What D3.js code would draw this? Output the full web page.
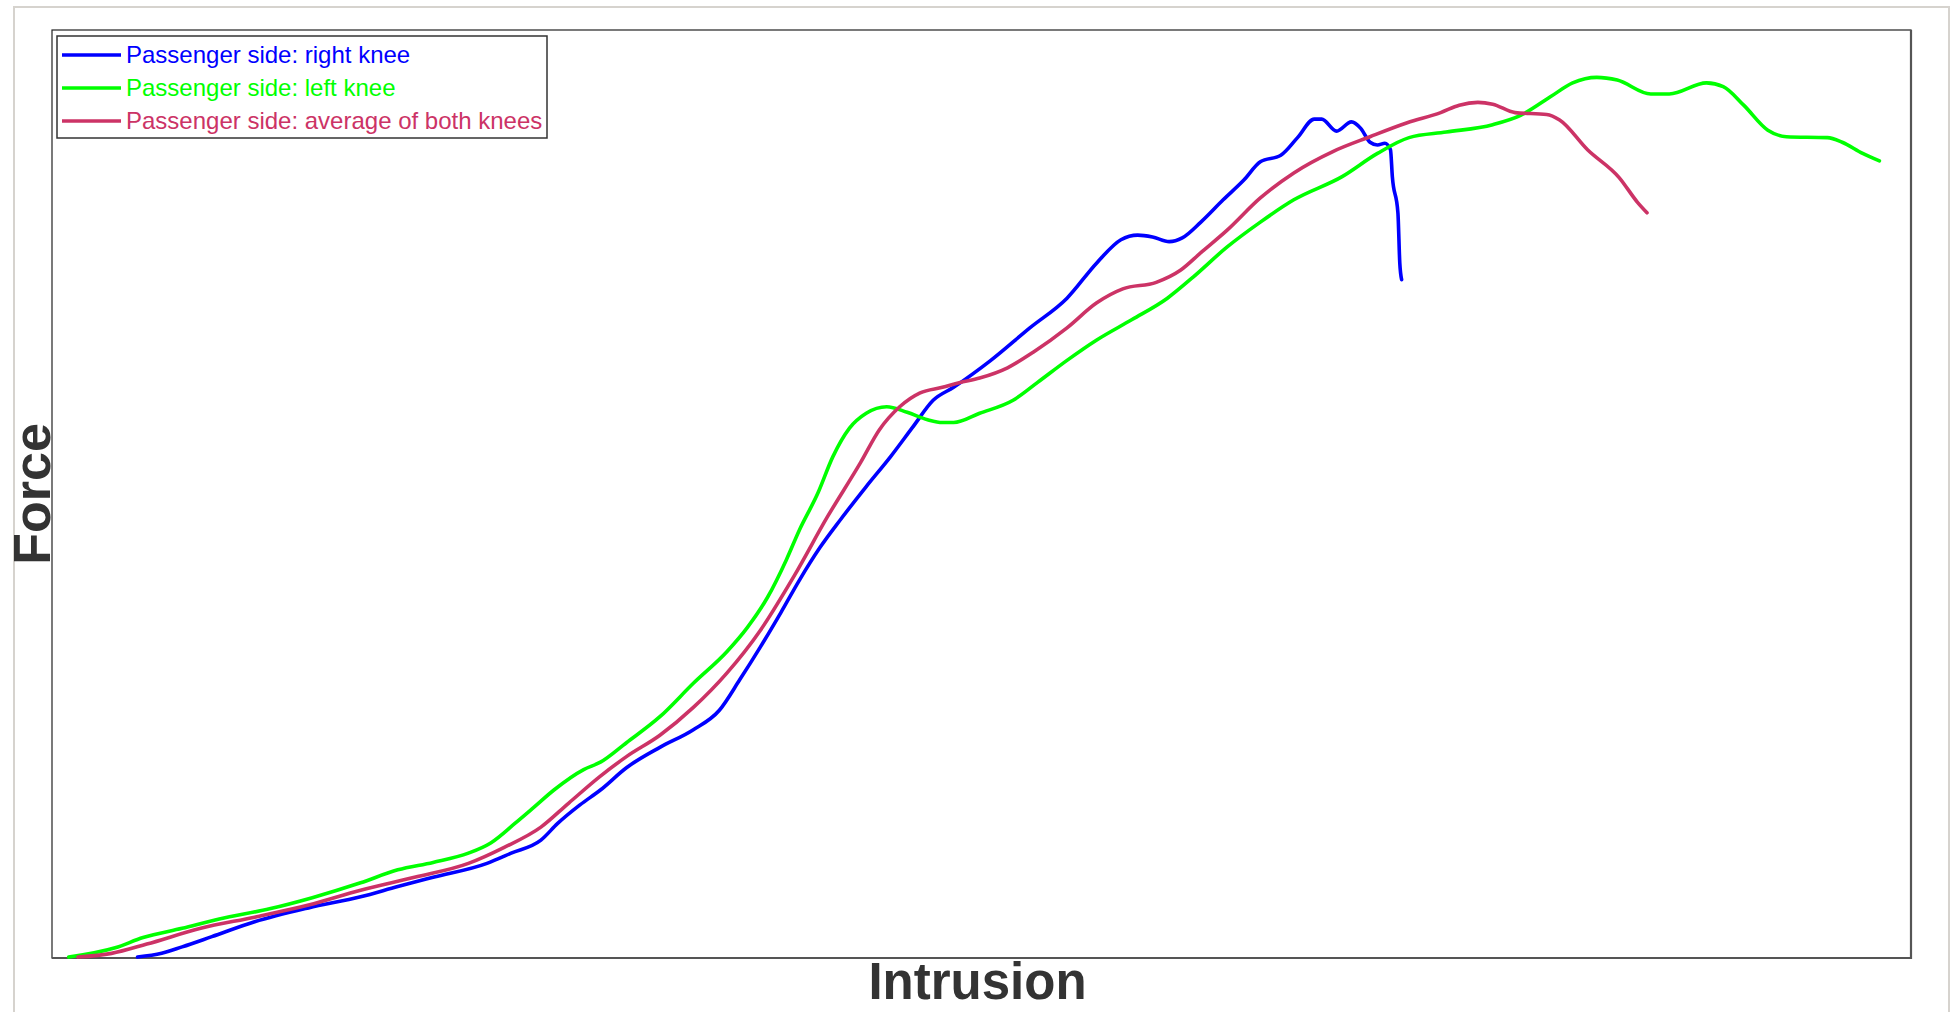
<!DOCTYPE html>
<html>
<head>
<meta charset="utf-8">
<title>Passenger knee force vs intrusion</title>
<script src="https://cdn.jsdelivr.net/npm/d3@7/dist/d3.min.js"></script>
<style>
    body { margin: 0; background: #fff; }
    svg { display: block; font-family: "Liberation Sans", Arial, sans-serif; }
</style>
</head>
<body>
<script>
// [intrusion, force] pairs, both as % of the plotted range (the chart has no ticks)
var rightKnee = [
    [4.6, 0.1], [5.9, 0.5], [7.0, 1.2], [8.6, 2.3], [10.9, 3.9], [13.8, 5.4], [16.6, 6.6],
    [18.6, 7.7], [20.5, 8.7], [23.4, 10.2], [24.7, 11.3], [26.3, 12.7], [27.2, 14.5],
    [28.4, 16.5], [29.5, 18.1], [30.9, 20.5], [32.7, 22.7], [34.5, 24.6], [35.9, 26.7],
    [37.0, 30.0], [38.1, 33.5], [39.2, 37.2], [40.2, 40.7], [41.3, 44.2], [42.4, 47.2],
    [43.8, 50.8], [45.1, 54.0], [46.3, 57.2], [47.4, 60.1], [48.5, 61.5], [50.5, 64.4],
    [52.6, 67.9], [54.6, 71.1], [56.2, 74.9], [57.5, 77.4], [58.4, 77.9], [59.2, 77.7],
    [60.1, 77.2], [60.8, 77.6], [61.8, 79.3], [63.0, 81.7], [64.1, 83.8], [65.0, 85.8],
    [66.1, 86.5], [67.0, 88.4], [67.9, 90.4], [68.3, 90.4], [69.1, 89.1], [69.9, 90.1],
    [70.4, 89.4], [70.9, 87.9], [71.3, 87.6], [71.7, 87.8], [72.0, 87.1], [72.1, 84.2],
    [72.4, 80.3], [72.5, 74.9], [72.6, 73.1]
];
var leftKnee = [
    [0.9, 0.1], [3.4, 1.1], [4.9, 2.2], [7.0, 3.2], [9.0, 4.2], [11.7, 5.3], [14.0, 6.5],
    [16.6, 8.1], [18.6, 9.5], [20.5, 10.3], [22.4, 11.3], [23.6, 12.4], [24.9, 14.5],
    [25.9, 16.2], [27.0, 18.1], [28.6, 20.3], [29.5, 21.1], [30.9, 23.2], [32.7, 26.0],
    [34.5, 29.6], [36.3, 33.0], [37.4, 35.6], [38.5, 38.9], [39.5, 42.9], [40.2, 46.1],
    [41.2, 50.1], [42.0, 54.0], [42.9, 57.1], [43.8, 58.7], [44.9, 59.4], [46.0, 58.8],
    [47.1, 58.0], [47.9, 57.7], [48.5, 57.7], [49.9, 58.7], [51.7, 60.1], [53.0, 62.0],
    [54.6, 64.4], [56.2, 66.6], [58.1, 68.8], [60.0, 71.1], [61.4, 73.4], [63.2, 76.6],
    [65.0, 79.3], [66.8, 81.7], [69.4, 84.2], [71.3, 86.7], [73.0, 88.4], [75.0, 89.0],
    [77.5, 89.8], [79.0, 90.8], [80.6, 92.8], [81.8, 94.3], [83.1, 94.9], [84.2, 94.6],
    [86.0, 93.1], [87.0, 93.1], [89.0, 94.3], [89.9, 93.9], [91.0, 91.9], [92.3, 89.2],
    [93.3, 88.5], [95.5, 88.4], [96.3, 87.9], [97.4, 86.7], [98.3, 85.9]
];
var averageKnees = [
    [1.4, 0.1], [3.2, 0.5], [5.1, 1.5], [8.0, 3.2], [10.9, 4.4], [13.8, 5.7], [16.6, 7.3],
    [19.5, 8.7], [22.4, 10.2], [24.3, 11.9], [26.3, 14.1], [27.8, 16.7], [29.5, 19.6],
    [30.9, 21.7], [32.7, 24.0], [34.5, 27.0], [36.3, 30.7], [38.1, 35.3], [39.9, 41.1],
    [41.7, 47.5], [43.5, 53.4], [44.5, 56.9], [45.6, 59.4], [46.7, 60.9], [47.9, 61.5],
    [48.8, 62.0], [49.9, 62.5], [51.4, 63.6], [52.8, 65.3], [54.6, 67.9], [56.2, 70.6],
    [57.6, 72.1], [59.4, 72.8], [60.7, 74.1], [61.8, 76.0], [63.2, 78.4], [65.0, 81.9],
    [66.8, 84.6], [68.9, 86.9], [70.9, 88.5], [72.9, 90.0], [74.7, 91.1], [75.7, 91.9],
    [76.7, 92.2], [77.5, 92.0], [78.7, 91.1], [80.4, 90.9], [81.1, 90.3], [82.6, 87.1],
    [84.3, 84.1], [85.3, 81.4], [85.8, 80.3]
];
var seriesNames = [
    "Passenger side: right knee",
    "Passenger side: left knee",
    "Passenger side: average of both knees"
];
var seriesColors = ["#0000ff", "#00ff00", "#cc3366"];
var xTitle = "Intrusion";
var yTitle = "Force";

/**
 * Knee chart: sets up the svg, scales and draws everything
 * @class
 */
var KneeChart = function () {
    var _svg = null;
    var _x = null;
    var _y = null;
    var _box = { left: 52, top: 30, right: 1911, bottom: 958 };

    /**
     * Create the svg and the scales
     * @param width
     * @param height
     */
    this.init = function (width, height) {
        _svg = d3.select("body").append("svg")
            .attr("width", width)
            .attr("height", height);

        // light outer frame of the picture
        _svg.append("rect")
            .attr("x", 14).attr("y", 7)
            .attr("width", width - 15).attr("height", height + 20)
            .attr("fill", "none")
            .attr("stroke", "#d6d3ce")
            .attr("stroke-width", 2);

        _x = d3.scaleLinear().domain([0, 100]).range([_box.left, _box.right]);
        _y = d3.scaleLinear().domain([0, 100]).range([_box.bottom, _box.top]);
    }

    /**
     * Plot frame, no ticks, just the box
     */
    this.drawFrame = function () {
        _svg.append("rect")
            .attr("x", _box.left).attr("y", _box.top)
            .attr("width", _box.right - _box.left)
            .attr("height", _box.bottom - _box.top)
            .attr("fill", "#fff")
            .attr("stroke", "#222")
            .attr("stroke-width", 1.2);
        // darker bottom/right edge, like the original
        _svg.append("path")
            .attr("d", "M" + _box.left + "," + _box.bottom + "H" + _box.right + "V" + _box.top)
            .attr("fill", "none")
            .attr("stroke", "#555")
            .attr("stroke-width", 2.2);
    }

    /**
     * Draw the three curves
     */
    this.drawLines = function (seriesList) {
        var line = d3.line()
            .x(function (d) { return _x(d[0]); })
            .y(function (d) { return _y(d[1]); })
            .curve(d3.curveMonotoneX);

        _svg.append("g").selectAll("path")
            .data(seriesList)
            .join("path")
            .attr("d", line)
            .attr("fill", "none")
            .attr("stroke", function (d, i) { return seriesColors[i]; })
            .attr("stroke-width", 3.6)
            .attr("stroke-linejoin", "round")
            .attr("stroke-linecap", "round");
    }

    /**
     * Legend box in the top left corner
     */
    this.drawLegend = function () {
        var g = _svg.append("g").attr("transform", "translate(57,36)");
        g.append("rect")
            .attr("width", 490).attr("height", 102)
            .attr("fill", "#fff")
            .attr("stroke", "#333")
            .attr("stroke-width", 1.5);

        var rows = g.selectAll("g.row")
            .data(seriesNames)
            .join("g")
            .attr("class", "row")
            .attr("transform", function (d, i) { return "translate(0," + (19 + i * 33) + ")"; });

        rows.append("line")
            .attr("x1", 5).attr("x2", 64)
            .attr("stroke", function (d, i) { return seriesColors[i]; })
            .attr("stroke-width", 3.6);

        rows.append("text")
            .attr("x", 69)
            .attr("dy", "0.35em")
            .attr("font-size", 24)
            .attr("fill", function (d, i) { return seriesColors[i]; })
            .text(function (d) { return d; });
    }

    /**
     * Axis titles
     */
    this.drawTitles = function () {
        _svg.append("text")
            .attr("x", (_box.left + _box.right) / 2 - 4)
            .attr("y", 999)
            .attr("text-anchor", "middle")
            .attr("font-size", 51)
            .attr("font-weight", "bold")
            .attr("fill", "#333")
            .text(xTitle);

        _svg.append("text")
            .attr("transform", "translate(50," + (_box.top + _box.bottom) / 2 + ") rotate(-90)")
            .attr("text-anchor", "middle")
            .attr("font-size", 52)
            .attr("font-weight", "bold")
            .attr("fill", "#333")
            .text(yTitle);
    }
}

var chart = new KneeChart();
chart.init(1950, 1012);
chart.drawFrame();
chart.drawLines([rightKnee, leftKnee, averageKnees]);
chart.drawLegend();
chart.drawTitles();
</script>
</body>
</html>
